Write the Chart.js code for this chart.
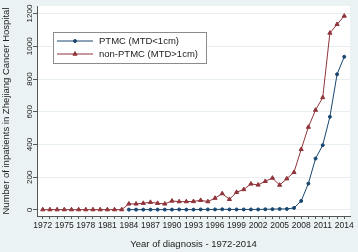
<!DOCTYPE html>
<html>
<head>
<meta charset="utf-8">
<script src="https://cdn.jsdelivr.net/npm/chart.js@4/dist/chart.umd.min.js"></script>
<style>
  html, body { margin: 0; padding: 0; background: #eaf2f3; }
  #wrap { width: 358px; height: 252px; }
</style>
</head>
<body>
<div id="wrap"><canvas id="chart" width="358" height="252"></canvas></div>
<script>
// data
const years = [1972, 1973, 1974, 1975, 1976, 1977, 1978, 1979, 1980, 1981, 1982, 1983,
    1984, 1985, 1986, 1987, 1988, 1989, 1990, 1991, 1992, 1993, 1994, 1995, 1996, 1997,
    1998, 1999, 2000, 2001, 2002, 2003, 2004, 2005, 2006, 2007, 2008, 2009, 2010, 2011,
    2012, 2013, 2014];

const ptmc = [null, null, null, null, null, null, null, null, null, null, null, null,
    2, 2, 2, 2, 2, 2, 2, 3, 2, 2, 3, 3, 3, 4,
    3, 3, 3, 3, 3, 4, 5, 6, 6, 12, 55, 161, 314, 396,
    569, 829, 936];

const nonPtmc = [2, 2, 2, 2, 2, 2, 2, 2, 2, 2, 2, 2,
    37, 37, 41, 47, 41, 37, 55, 51, 51, 52, 59, 51, 72, 100,
    65, 108, 125, 159, 153, 175, 195, 152, 191, 230, 370, 506, 610, 687,
    1081, 1134, 1185];

const yTicks = [0, 200, 400, 600, 800, 1000, 1200];
const xLabelYears = [1972, 1975, 1978, 1981, 1984, 1987, 1990, 1993, 1996, 1999, 2002, 2005, 2008, 2011, 2014];

const seriesNames = ["PTMC (MTD<1cm)", "non-PTMC (MTD>1cm)"];

const FONT = "'Liberation Sans', Arial, sans-serif";
const BLUE = "#1a476f";
const RED = "#90353b";
const INK = "#222222";

function toPoints(vals) {
    return years.map((yr, i) => ({ x: yr, y: vals[i] }));
}

// grey page, white plot region
const backdrop = {
    id: "backdrop",
    beforeDraw(chart) {
        const ctx = chart.ctx;
        const a = chart.chartArea;
        ctx.save();
        ctx.fillStyle = "#eaf2f3";
        ctx.fillRect(0, 0, chart.width, chart.height);
        ctx.fillStyle = "#ffffff";
        ctx.fillRect(a.left, a.top, a.right - a.left, a.bottom - a.top);
        ctx.restore();
    }
};

// boxed legend sitting inside the plot, Stata style
const boxLegend = {
    id: "boxLegend",
    afterDraw(chart) {
        const ctx = chart.ctx;
        const a = chart.chartArea;
        const x0 = a.left + 16, y0 = a.top + 26;
        const w = 153, h = 31;
        ctx.save();
        ctx.fillStyle = "#ffffff";
        ctx.fillRect(x0, y0, w, h);
        ctx.strokeStyle = "#8c8c8c";
        ctx.lineWidth = 1;
        ctx.strokeRect(x0 + 0.5, y0 + 0.5, w, h);
        ctx.font = "9.5px " + FONT;
        ctx.textBaseline = "middle";
        chart.data.datasets.forEach((ds, i) => {
            const cy = y0 + 9 + i * 13;
            ctx.strokeStyle = ds.borderColor;
            ctx.lineWidth = 1;
            ctx.beginPath();
            ctx.moveTo(x0 + 4, cy);
            ctx.lineTo(x0 + 40, cy);
            ctx.stroke();
            ctx.fillStyle = ds.backgroundColor;
            Chart.helpers.drawPoint(ctx, {
                pointStyle: ds.pointStyle,
                radius: ds.pointRadius,
                borderWidth: 1
            }, x0 + 22, cy);
            ctx.fillStyle = INK;
            ctx.fillText(ds.label, x0 + 46, cy + 0.5);
        });
        ctx.restore();
    }
};

new Chart(document.getElementById("chart"), {
    type: "line",
    data: {
        datasets: [
            {
                label: seriesNames[0],
                data: toPoints(ptmc),
                borderColor: BLUE,
                backgroundColor: BLUE,
                borderWidth: 1,
                pointStyle: "circle",
                pointRadius: 1.5,
                pointBorderWidth: 1,
                tension: 0,
                order: 2
            },
            {
                label: seriesNames[1],
                data: toPoints(nonPtmc),
                borderColor: RED,
                backgroundColor: RED,
                borderWidth: 1,
                pointStyle: "triangle",
                pointRadius: 2.4,
                pointBorderWidth: 1,
                tension: 0,
                order: 1
            }
        ]
    },
    options: {
        responsive: false,
        animation: false,
        devicePixelRatio: 1,
        layout: { padding: { top: 6, right: 8, left: 0, bottom: 0 } },
        plugins: {
            legend: { display: false },
            tooltip: { enabled: false }
        },
        scales: {
            x: {
                type: "linear",
                min: 1971.2,
                max: 2014.8,
                afterBuildTicks: (s) => { s.ticks = years.map(v => ({ value: v })); },
                afterFit: (s) => { s.height = 36; },
                border: { color: "#555555", width: 1 },
                grid: { drawOnChartArea: false, tickColor: "#555555", tickLength: 3 },
                ticks: {
                    autoSkip: false,
                    maxRotation: 0,
                    padding: 2,
                    color: INK,
                    font: { family: FONT, size: 8.5 },
                    callback: (v) => xLabelYears.includes(v) ? String(v) : ""
                },
                title: {
                    display: true,
                    text: "Year of diagnosis - 1972-2014",
                    color: INK,
                    font: { family: FONT, size: 9.5 },
                    padding: { top: 4, bottom: 2 }
                }
            },
            y: {
                type: "linear",
                min: -37,
                max: 1246,
                afterBuildTicks: (s) => { s.ticks = yTicks.map(v => ({ value: v })); },
                afterFit: (s) => { s.width = 37; },
                border: { color: "#555555", width: 1 },
                grid: { color: "#e6eef0", tickColor: "#555555", tickLength: 4 },
                ticks: {
                    minRotation: 90,
                    maxRotation: 90,
                    crossAlign: "center",
                    padding: -6,
                    color: INK,
                    font: { family: FONT, size: 8 },
                    callback: (v) => String(v)
                },
                title: {
                    display: true,
                    text: "Number of inpatients in Zhejiang Cancer Hospital",
                    color: INK,
                    font: { family: FONT, size: 9.5 },
                    padding: { top: 1, bottom: 0 }
                }
            }
        }
    },
    plugins: [backdrop, boxLegend]
});
</script>
</body>
</html>
